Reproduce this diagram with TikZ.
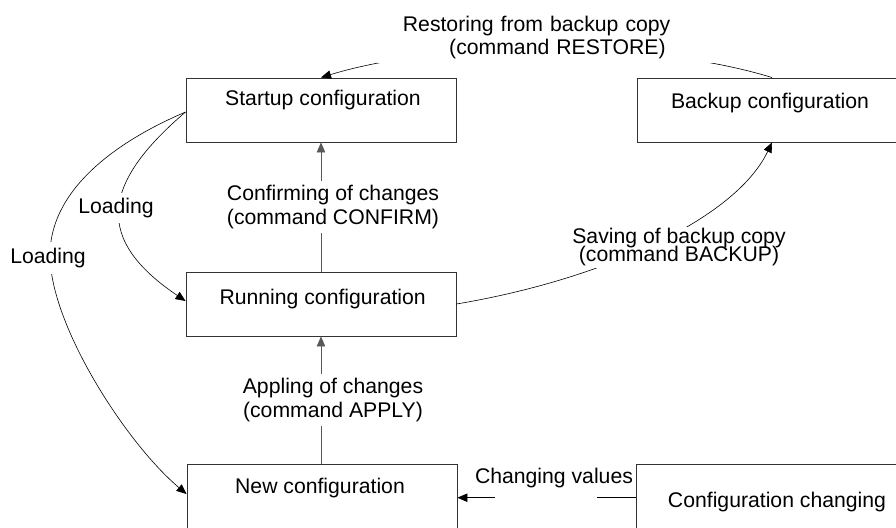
\documentclass[tikz,border=0pt]{standalone}
\usepackage{fontspec}
\setmainfont{Liberation Sans}
\usetikzlibrary{arrows.meta}
\tikzset{
  base/.style={font=\fontsize{21.2}{23.3}\selectfont},
  cfgbox/.style={draw=black!80, line width=0.9pt, minimum width=270pt, minimum height=64pt, inner sep=0pt},
  arr/.style={-{Triangle[length=10pt,width=8.5pt]}, line width=0.6pt},
  varr/.style={arr, draw=black!65},
  lbl/.style={fill=white, inner xsep=2pt, inner ysep=4.3pt, align=center},
}
\begin{document}
\begin{tikzpicture}[x=1pt,y=-1pt,base]
\clip (0,0) rectangle (896,527);
% boxes
\node[cfgbox, label={[xshift=2pt,yshift=10pt]center:Startup configuration}] (startup) at (321,110) {};
\node[cfgbox, label={[xshift=-2pt,yshift=7.3pt]center:Backup configuration}] (backup) at (772,110) {};
\node[cfgbox, label={[xshift=1.7pt,yshift=5pt]center:Running configuration}] (running) at (321,304) {};
\node[cfgbox, label={[xshift=-2pt,yshift=8pt]center:New configuration}] (new) at (322,496) {};
\node[cfgbox, label={[xshift=6pt,yshift=-5.7pt]center:Configuration changing}] (config) at (771,496) {};
% vertical arrows
\draw[varr] (running.north) -- node[lbl, xshift=12pt] (conflbl) {Confirming of changes\\(command CONFIRM)} (startup.south);
\draw[varr] (running.south |- new.north) -- node[lbl, xshift=12pt] (applbl) {Appling of changes\\(command APPLY)} (running.south);
% restore
\draw[arr] (backup.north) .. controls (651,40) and (443,40) .. (startup.north);
\node[lbl, anchor=north west, text width=338pt, align=left, inner xsep=0pt, inner ysep=4pt] (restorelbl) at (378,12)
  {\hspace*{24.7pt}Restoring from backup copy\\\hspace*{71pt}(command RESTORE)};
% backup
\draw[arr] (running.east) .. controls (600,280) and (735,220) .. (backup.south);
\node[lbl, inner sep=2pt, font={\fontsize{21.2}{18}\selectfont\lineskiplimit=-30pt\lineskip=0pt}] (savelbl) at (679,247.5) {Saving of backup copy\\(command BACKUP)};
% loading
\draw[arr] ([yshift=-2pt]startup.west) .. controls (100,185) and (95,240) .. ([yshift=3pt]running.west);
\node[lbl, inner ysep=5pt] (load1) at (116,208) {Loading};
\draw[arr] ([yshift=-2pt]startup.west) .. controls (106,146) and (50,195) .. (50,255) .. controls (50,325) and (126,443) .. ([yshift=2pt]new.west);
\node[lbl, inner ysep=6pt] (load2) at (48,258) {Loading};
% changing values
\coordinate (cvR) at (597,497.7);
\coordinate (cvL) at (495,497.7);
\draw[arr] (config.west |- cvR) -- (cvR) (cvL) -- (new.east |- cvL);
\node (cvlbl) at (554,478) {Changing values};
\end{tikzpicture}
\end{document}
